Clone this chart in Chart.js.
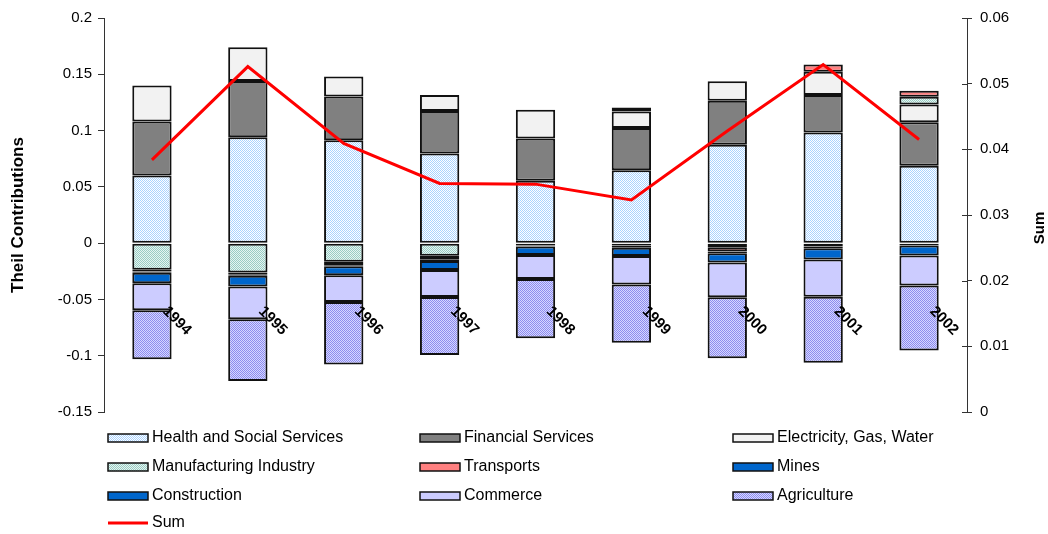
<!DOCTYPE html>
<html>
<head>
<meta charset="utf-8">
<script src="https://cdn.jsdelivr.net/npm/chart.js@4.4.1/dist/chart.umd.min.js"></script>
<style>
  html, body { margin: 0; padding: 0; background: #fff; }
  #wrap { position: relative; width: 1048px; height: 534px; }
</style>
</head>
<body>
<div id="wrap"><canvas id="chart" width="1048" height="534"></canvas></div>
<script>
const years = ['1994', '1995', '1996', '1997', '1998', '1999', '2000', '2001', '2002'];

// sector contributions to the Theil index
const health        = [0.060, 0.094, 0.0915, 0.0797, 0.0554, 0.0648, 0.0873, 0.0983, 0.0687];
const financial     = [0.048, 0.050, 0.0388, 0.0376, 0.0376, 0.0374, 0.0391, 0.0334, 0.0388];
const electricity   = [0.032, 0.030, 0.0178, 0.0144, 0.0254, 0.0148, 0.0175, 0.0205, 0.0157];
const manufacturing = [-0.0237, -0.026, -0.0166, -0.0113, -0.0005, 0.0035, -0.0036, -0.003, 0.0068];
const transports    = [-0.0015, -0.002, -0.003, -0.003, -0.0015, -0.002, -0.0038, 0.0065, 0.0053];
const mines         = [-0.001, -0.001, -0.001, -0.0015, -0.001, -0.002, -0.0015, -0.0015, -0.002];
const construction  = [-0.0095, -0.0095, -0.008, -0.008, -0.0075, -0.0075, -0.0083, -0.010, -0.0089];
const commerce      = [-0.024, -0.029, -0.0237, -0.024, -0.0213, -0.0252, -0.0308, -0.0331, -0.0267];
const agriculture   = [-0.0435, -0.055, -0.0554, -0.0515, -0.0527, -0.0518, -0.0542, -0.0586, -0.0578];
const sum           = [0.0384, 0.0526, 0.0409, 0.0348, 0.0347, 0.0323, 0.0428, 0.0529, 0.0415];

const leftTicks  = [-0.15, -0.1, -0.05, 0, 0.05, 0.1, 0.15, 0.2];
const rightTicks = [0, 0.01, 0.02, 0.03, 0.04, 0.05, 0.06];

const FONT = '"Liberation Sans", Arial, sans-serif';

// small dithered fills like the old office hatch patterns
function checker(c1, c2) {
  const p = document.createElement('canvas');
  p.width = 2; p.height = 2;
  const g = p.getContext('2d');
  g.fillStyle = c2; g.fillRect(0, 0, 2, 2);
  g.fillStyle = c1; g.fillRect(0, 0, 1, 1); g.fillRect(1, 1, 1, 1);
  return g.createPattern(p, 'repeat');
}

const fills = {
  health: checker('#A9D3FF', '#FFFFFF'),
  manufacturing: checker('#99CCC4', '#E6F5F1'),
  agriculture: checker('#8C8CEE', '#D6D6FF')
};

function bar(label, data, bg) {
  return {
    type: 'bar', label, data, backgroundColor: bg,
    borderColor: '#111', borderWidth: 2, borderSkipped: false,
    stack: 'sectors', yAxisID: 'y',
    categoryPercentage: 1, barPercentage: 0.41
  };
}

const datasets = [
  bar('Health and Social Services', health, fills.health),
  bar('Financial Services', financial, '#808080'),
  bar('Electricity, Gas, Water', electricity, '#F2F2F2'),
  bar('Manufacturing Industry', manufacturing, fills.manufacturing),
  bar('Transports', transports, '#FF8080'),
  bar('Mines', mines, '#0066CC'),
  bar('Construction', construction, '#0066CC'),
  bar('Commerce', commerce, '#CCCCFF'),
  bar('Agriculture', agriculture, fills.agriculture),
  {
    type: 'line', label: 'Sum', data: sum, yAxisID: 'y2', order: -1,
    borderColor: '#FF0000', borderWidth: 3, pointRadius: 0, tension: 0, fill: false
  }
];

const fmt = v => String(Number(v.toFixed(3)));

// year labels, axis titles, inner right ticks and the 3-column legend
const extras = {
  id: 'extras',
  afterDraw(chart) {
    const ctx = chart.ctx;
    const x = chart.scales.x, y = chart.scales.y, y2 = chart.scales.y2;
    ctx.save();

    ctx.strokeStyle = '#333';
    ctx.lineWidth = 1;
    rightTicks.forEach(v => {
      const py = Math.round(y2.getPixelForValue(v)) + 0.5;
      ctx.beginPath(); ctx.moveTo(y2.left - 5, py); ctx.lineTo(y2.left, py); ctx.stroke();
    });

    ctx.fillStyle = '#000';
    ctx.font = 'bold 15px ' + FONT;
    ctx.textAlign = 'center';
    ctx.textBaseline = 'middle';
    years.forEach((yr, i) => {
      ctx.save();
      ctx.translate(x.getPixelForValue(i) + 25, y.getPixelForValue(-0.069));
      ctx.rotate(Math.PI / 4);
      ctx.fillText(yr, 0, 0);
      ctx.restore();
    });

    ctx.font = 'bold 17px ' + FONT;
    ctx.save();
    ctx.translate(18, (chart.chartArea.top + chart.chartArea.bottom) / 2);
    ctx.rotate(-Math.PI / 2);
    ctx.fillText('Theil Contributions', 0, 0);
    ctx.restore();
    ctx.font = 'bold 15px ' + FONT;
    ctx.save();
    ctx.translate(1040, 228);
    ctx.rotate(-Math.PI / 2);
    ctx.fillText('Sum', 0, 0);
    ctx.restore();

    const colX = [108, 420, 733];
    const rowY = [438, 467, 496, 523];
    ctx.font = '16px ' + FONT;
    ctx.textAlign = 'left';
    chart.data.datasets.forEach((ds, i) => {
      const cx = colX[i % 3], cy = rowY[Math.floor(i / 3)];
      if (ds.type === 'line') {
        ctx.strokeStyle = ds.borderColor;
        ctx.lineWidth = 3;
        ctx.beginPath(); ctx.moveTo(cx, cy); ctx.lineTo(cx + 40, cy); ctx.stroke();
      } else {
        ctx.fillStyle = ds.backgroundColor;
        ctx.fillRect(cx, cy - 4, 40, 8);
        ctx.strokeStyle = '#111';
        ctx.lineWidth = 1.5;
        ctx.strokeRect(cx, cy - 4, 40, 8);
      }
      ctx.fillStyle = '#000';
      ctx.fillText(ds.label, cx + 44, cy);
    });

    ctx.restore();
  }
};

new Chart(document.getElementById('chart'), {
  data: { labels: years, datasets },
  plugins: [extras],
  options: {
    responsive: false,
    animation: false,
    layout: { padding: { top: 18, bottom: 122, left: 0, right: 0 } },
    plugins: { legend: { display: false }, tooltip: { enabled: false } },
    scales: {
      x: { display: false, stacked: true, offset: true },
      y: {
        position: 'left', stacked: true, min: -0.15, max: 0.2,
        afterFit: s => { s.width = 104; },
        afterBuildTicks: s => { s.ticks = leftTicks.map(v => ({ value: v })); },
        border: { display: true, color: '#333', width: 1 },
        grid: { drawOnChartArea: false, drawTicks: true, tickLength: 6, color: '#333' },
        ticks: { color: '#000', padding: 6, font: { family: FONT, size: 15 }, callback: v => fmt(v) }
      },
      y2: {
        position: 'right', min: 0, max: 0.06,
        afterFit: s => { s.width = 81; },
        afterBuildTicks: s => { s.ticks = rightTicks.map(v => ({ value: v })); },
        border: { display: true, color: '#333', width: 1 },
        grid: { drawOnChartArea: false, drawTicks: true, tickLength: 5, color: '#333' },
        ticks: { color: '#000', padding: 8, font: { family: FONT, size: 15 }, callback: v => fmt(v) }
      }
    }
  }
});
</script>
</body>
</html>
